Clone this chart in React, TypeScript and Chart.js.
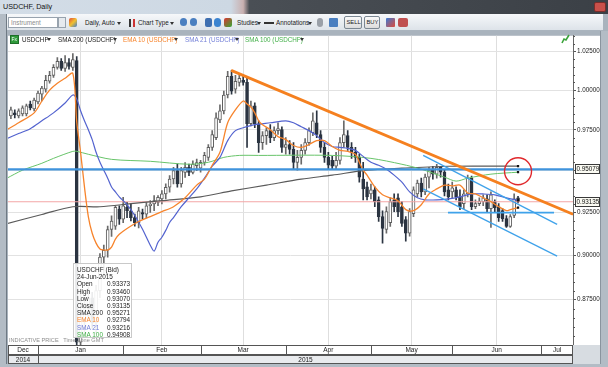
import React, { useEffect, useRef } from "react";
import { Chart, registerables } from "chart.js";

Chart.register(...registerables);

// ---------------- data ----------------
// trading-day index: 0 = 1-Jan-2015; first candle is 23-Dec-2014
const firstCandleDay = -7;
const opens = [
  0.9838, 0.9857, 0.9838, 0.9851, 0.9851, 0.9913, 0.9882,
  0.9926, 0.9976, 1.0007, 1.0058, 1.0096, 1.0147, 1.0186, 1.0141, 1.0179, 1.0147, 1.0192,
  0.8515, 0.8640, 0.8700, 0.8760, 0.8620, 0.8800, 0.8990, 0.9030, 0.9150, 0.9170, 0.9270,
  0.9210, 0.9280, 0.9260, 0.9220, 0.9190, 0.9250, 0.9240, 0.9290, 0.9300, 0.9310,
  0.9330, 0.9360, 0.9400, 0.9450, 0.9500, 0.9420, 0.9490, 0.9520, 0.9490, 0.9530,
  0.9515, 0.9551, 0.9581, 0.9642, 0.9703, 0.9813, 0.9870, 0.9970, 1.0090, 1.0007,
  1.0051, 1.0064, 1.0051, 0.9789, 0.9901, 0.9789, 0.9672, 0.9715, 0.9746, 0.9703, 0.9746, 0.9752,
  0.9642, 0.9660, 0.9630, 0.9551, 0.9581, 0.9624, 0.9672, 0.9734, 0.9795, 0.9722, 0.9642,
  0.9581, 0.9563, 0.9527, 0.9563, 0.9672, 0.9715, 0.9642, 0.9612, 0.9581, 0.9449, 0.9402,
  0.9360, 0.9384, 0.9325, 0.9226, 0.9151, 0.9190, 0.9325, 0.9337, 0.9284, 0.9208, 0.9128,
  0.9243, 0.9360, 0.9425, 0.9372, 0.9461, 0.9509, 0.9479, 0.9521, 0.9491, 0.9384,
  0.9372, 0.9384, 0.9343, 0.9302, 0.9360, 0.9455, 0.9284, 0.9302, 0.9314, 0.9331, 0.9273,
  0.9314, 0.9284, 0.9261, 0.9214, 0.9168, 0.9232, 0.93373,
];
const highs = [
  0.9894, 0.9876, 0.9882, 0.9901, 0.9913, 0.9932, 0.9951,
  0.9995, 1.0026, 1.0096, 1.0122, 1.0166, 1.0211, 1.0205, 1.0224, 1.0205, 1.0237, 1.0218,
  0.8800, 0.8760, 0.8820, 0.8790, 0.8830, 0.9010, 0.9060, 0.9170, 0.9230, 0.9290, 0.9290,
  0.9340, 0.9310, 0.9300, 0.9240, 0.9280, 0.9270, 0.9310, 0.9320, 0.9350, 0.9350,
  0.9380, 0.9420, 0.9470, 0.9520, 0.9540, 0.9520, 0.9550, 0.9540, 0.9560, 0.9570,
  0.9563, 0.9612, 0.9660, 0.9746, 0.9857, 0.9907, 0.9995, 1.0122, 1.0128, 1.0096,
  1.0109, 1.0096, 1.0077, 0.9932, 0.9920, 0.9807, 0.9740, 0.9764, 0.9783, 0.9770, 0.9795, 0.9770,
  0.9703, 0.9684, 0.9672, 0.9624, 0.9660, 0.9697, 0.9764, 0.9857, 0.9870, 0.9746, 0.9672,
  0.9612, 0.9587, 0.9612, 0.9703, 0.9807, 0.9746, 0.9672, 0.9642, 0.9600, 0.9551, 0.9431,
  0.9419, 0.9402, 0.9343, 0.9260, 0.9284, 0.9337, 0.9360, 0.9360, 0.9314, 0.9226, 0.9273,
  0.9402, 0.9443, 0.9455, 0.9479, 0.9521, 0.9527, 0.9539, 0.9527, 0.9503, 0.9419,
  0.9431, 0.9402, 0.9384, 0.9384, 0.9473, 0.9467, 0.9325, 0.9337, 0.9355, 0.9355, 0.9372,
  0.9325, 0.9302, 0.9273, 0.9232, 0.9237, 0.9360, 0.93460,
];
const lows = [
  0.9820, 0.9826, 0.9826, 0.9838, 0.9838, 0.9876, 0.9870,
  0.9913, 0.9932, 0.9988, 1.0045, 1.0083, 1.0135, 1.0128, 1.0122, 1.0135, 1.0128, 0.7400,
  0.8350, 0.8560, 0.8640, 0.8590, 0.8560, 0.8760, 0.8880, 0.8990, 0.9110, 0.9150, 0.9180,
  0.9190, 0.9220, 0.9200, 0.9170, 0.9160, 0.9210, 0.9220, 0.9250, 0.9260, 0.9290,
  0.9300, 0.9330, 0.9370, 0.9420, 0.9400, 0.9400, 0.9460, 0.9470, 0.9480, 0.9500,
  0.9491, 0.9533, 0.9563, 0.9624, 0.9690, 0.9795, 0.9851, 0.9951, 0.9976, 0.9982,
  1.0026, 1.0032, 0.9642, 0.9776, 0.9764, 0.9612, 0.9630, 0.9660, 0.9672, 0.9684, 0.9722, 0.9612,
  0.9600, 0.9600, 0.9509, 0.9503, 0.9539, 0.9600, 0.9654, 0.9715, 0.9703, 0.9612, 0.9551,
  0.9509, 0.9509, 0.9509, 0.9539, 0.9642, 0.9624, 0.9575, 0.9551, 0.9431, 0.9325, 0.9325,
  0.9331, 0.9284, 0.9197, 0.9071, 0.9128, 0.9168, 0.9255, 0.9226, 0.9168, 0.9082, 0.9111,
  0.9226, 0.9343, 0.9343, 0.9355, 0.9396, 0.9449, 0.9455, 0.9461, 0.9349, 0.9325,
  0.9337, 0.9325, 0.9267, 0.9273, 0.9343, 0.9267, 0.9273, 0.9290, 0.9290, 0.9255, 0.9162,
  0.9255, 0.9197, 0.9197, 0.9162, 0.9162, 0.9220, 0.93070,
];
const closes = [
  0.9876, 0.9845, 0.9870, 0.9888, 0.9901, 0.9888, 0.9938,
  0.9982, 1.0014, 1.0064, 1.0096, 1.0147, 1.0186, 1.0141, 1.0179, 1.0154, 1.0198, 0.8515,
  0.8640, 0.8700, 0.8760, 0.8620, 0.8800, 0.8990, 0.9030, 0.9150, 0.9200, 0.9280, 0.9210,
  0.9290, 0.9260, 0.9220, 0.9190, 0.9260, 0.9240, 0.9290, 0.9300, 0.9320, 0.9340,
  0.9360, 0.9400, 0.9450, 0.9500, 0.9420, 0.9500, 0.9520, 0.9490, 0.9540, 0.9550,
  0.9551, 0.9593, 0.9642, 0.9722, 0.9826, 0.9870, 0.9970, 1.0090, 0.9995, 1.0058,
  1.0077, 1.0051, 0.9789, 0.9901, 0.9789, 0.9672, 0.9715, 0.9746, 0.9703, 0.9746, 0.9758, 0.9642,
  0.9660, 0.9630, 0.9551, 0.9581, 0.9624, 0.9672, 0.9746, 0.9807, 0.9722, 0.9642, 0.9581,
  0.9533, 0.9527, 0.9563, 0.9672, 0.9722, 0.9642, 0.9612, 0.9581, 0.9461, 0.9390, 0.9343,
  0.9384, 0.9314, 0.9226, 0.9156, 0.9255, 0.9314, 0.9284, 0.9255, 0.9185, 0.9128, 0.9255,
  0.9384, 0.9425, 0.9372, 0.9461, 0.9503, 0.9479, 0.9521, 0.9491, 0.9372, 0.9343,
  0.9396, 0.9343, 0.9284, 0.9360, 0.9455, 0.9284, 0.9302, 0.9318, 0.9337, 0.9273, 0.9355,
  0.9278, 0.9220, 0.9214, 0.9168, 0.9226, 0.9331, 0.93135,
];

const ema10Days = [-8, -5, -1, 1, 3, 5, 7, 9, 10, 11, 12, 13, 14, 15, 16, 17, 18, 19, 20, 21, 23, 26, 29, 32, 35, 38, 41, 43, 45, 47, 49, 51, 53, 54, 55, 56, 57, 58, 60, 62, 64, 66, 68, 70, 72, 74, 76, 78, 80, 82, 83, 84, 85, 87, 89, 91, 93, 95, 97, 99, 101, 103, 105, 107, 109, 111, 113, 115, 117, 119, 121, 122, 124];
const ema10Values = [0.9752, 0.9795, 0.9857, 0.9932, 1.0001, 1.0045, 1.0077, 1.0109, 0.9801, 0.9612, 0.9402, 0.9226, 0.9128, 0.9071, 0.9037, 0.9031, 0.9031, 0.9048, 0.9094, 0.9122, 0.9156, 0.9197, 0.9226, 0.9255, 0.9284, 0.9337, 0.9413, 0.9449, 0.9533, 0.9612, 0.9795, 0.9876, 0.9932, 0.9913, 0.9894, 0.9857, 0.9807, 0.9783, 0.9752, 0.9709, 0.9690, 0.9654, 0.9642, 0.9660, 0.9684, 0.9684, 0.9648, 0.9624, 0.9618, 0.9600, 0.9551, 0.9503, 0.9473, 0.9402, 0.9355, 0.9337, 0.9320, 0.9267, 0.9261, 0.9296, 0.9360, 0.9390, 0.9413, 0.9408, 0.9413, 0.9366, 0.9360, 0.9337, 0.9314, 0.9284, 0.9261, 0.9267, 0.92794];

const sma21Days = [-8, -5, -2, 1, 4, 7, 9, 10, 11, 12, 13, 14, 15, 16, 17, 18, 19, 20, 21, 23, 25, 27, 29, 30, 31, 32, 33, 34, 35, 37, 39, 41, 43, 45, 47, 49, 51, 53, 56, 60, 64, 66, 68, 70, 72, 74, 76, 78, 80, 82, 84, 86, 88, 90, 92, 94, 96, 98, 100, 103, 106, 109, 112, 115, 118, 121, 124];
const sma21Values = [0.9697, 0.9728, 0.9758, 0.9807, 0.9857, 0.9919, 0.9970, 0.9945, 0.9870, 0.9807, 0.9752, 0.9690, 0.9612, 0.9551, 0.9503, 0.9455, 0.9402, 0.9372, 0.9343, 0.9296, 0.9232, 0.9151, 0.9059, 0.9025, 0.9076, 0.9105, 0.9145, 0.9191, 0.9220, 0.9284, 0.9337, 0.9390, 0.9455, 0.9527, 0.9581, 0.9684, 0.9746, 0.9764, 0.9783, 0.9795, 0.9807, 0.9795, 0.9770, 0.9746, 0.9715, 0.9672, 0.9648, 0.9642, 0.9636, 0.9624, 0.9587, 0.9551, 0.9533, 0.9509, 0.9473, 0.9431, 0.9372, 0.9337, 0.9325, 0.9325, 0.9331, 0.9343, 0.9360, 0.9360, 0.9355, 0.9337, 0.93216];

const sma100Days = [-8, -4, 1, 4, 9, 10, 13, 19, 29, 39, 44, 48, 52, 57, 76, 86, 94, 99, 105, 108, 111, 117, 124];
const sma100Values = [0.9455, 0.9503, 0.9545, 0.9575, 0.9618, 0.9618, 0.9600, 0.9569, 0.9557, 0.9539, 0.9551, 0.9581, 0.9593, 0.9593, 0.9593, 0.9575, 0.9539, 0.9509, 0.9461, 0.9437, 0.9455, 0.9479, 0.94908];

const sma200Days = [-8, 1, 9, 16, 24, 32, 42, 50, 59, 68, 76, 85, 94, 106, 124];
const sma200Values = [0.9185, 0.9238, 0.9284, 0.9284, 0.9302, 0.9320, 0.9343, 0.9378, 0.9413, 0.9449, 0.9473, 0.9503, 0.9515, 0.9527, 0.95271];

const monthNames = ["Dec", "Jan", "Feb", "Mar", "Apr", "May", "Jun", "Jul"];
const monthStartDays = [0, 22, 42, 64, 86, 107, 130]; // Jan .. Jul
const yearNames = ["2014", "2015"];
const yearStartDays = [0];
const priceTicks = [0.875, 0.9, 0.925, 0.95, 0.975, 1.0, 1.025];
const priceMin = 0.85;
const priceMax = 1.0354;
const dayMin = -7.75;
const dayMax = 138.2;

const resistanceDays = [49.9, 138.2];
const resistanceValues = [1.0128, 0.924];
const levelPrice = 0.95079;
const lastPrice = 0.93135;
const channelUpperDays = [99.5, 134.1];
const channelUpperValues = [0.9593, 0.918];
const channelLowerDays = [99.5, 134.1];
const channelLowerValues = [0.939, 0.8996];
const supportDays = [105.9, 133.3];
const supportValues = [0.9249, 0.9249];
const circleDay = 124;
const circlePrice = 0.9497;
const highlightedPrices = [levelPrice, lastPrice];

// ---------------- helpers ----------------
const FONT = '"Liberation Sans", Arial, sans-serif';
const pts = (xs: number[], ys: number[]) => xs.map((x, i) => ({ x, y: ys[i] }));
const DOWN = "#2b3441";
const candleX = opens.map((_, k) => firstCandleDay + k);
const isUp = (k: number) => closes[k] >= opens[k];

const lineDs = (label: string, data: any[], color: string, width: number, order: number, marker = false, tension = 0.3) => ({
  type: "line",
  label,
  data,
  borderColor: color,
  backgroundColor: "#000",
  borderWidth: width,
  pointRadius: marker ? (c: any) => (c.dataIndex === data.length - 1 ? 1.6 : 0) : 0,
  pointStyle: "rect",
  pointBorderWidth: 0,
  pointBackgroundColor: "#111",
  tension,
  fill: false,
  order,
});

const bgPlugin = {
  id: "bg",
  beforeDraw(chart: any) {
    const { ctx, chartArea } = chart;
    ctx.save();
    ctx.fillStyle = "#ffffff";
    ctx.fillRect(chartArea.left, chartArea.top, chart.width - chartArea.left - 8, chartArea.bottom - chartArea.top);
    ctx.restore();
  },
};

const decoPlugin = {
  id: "deco",
  afterDatasetsDraw(chart: any) {
    const { ctx, scales } = chart;
    const cx = scales.x.getPixelForValue(circleDay);
    const cy = scales.y.getPixelForValue(circlePrice);
    ctx.save();
    ctx.strokeStyle = "#e0282c";
    ctx.lineWidth = 1.4;
    ctx.beginPath();
    ctx.arc(cx, cy, 13.5, 0, Math.PI * 2);
    ctx.stroke();
    ctx.restore();
  },
  afterDraw(chart: any) {
    const { ctx, chartArea, scales } = chart;
    const y = scales.y;
    const x = scales.x;
    ctx.save();
    // minor ticks
    ctx.strokeStyle = "#555";
    ctx.lineWidth = 1;
    const ext = [priceTicks[0] - 0.025, ...priceTicks, priceTicks[priceTicks.length - 1] + 0.025];
    for (let t = 0; t < ext.length - 1; t++) {
      const a = ext[t];
      const b = ext[t + 1];
      for (let m = 1; m < 5; m++) {
        const v = a + ((b - a) * m) / 5;
        const py = Math.round(y.getPixelForValue(v)) + 0.5;
        if (py < chartArea.top || py > chartArea.bottom) continue;
        ctx.beginPath();
        ctx.moveTo(chartArea.right, py);
        ctx.lineTo(chartArea.right + 2, py);
        ctx.stroke();
      }
    }
    // highlighted labels
    ctx.font = `6.3px ${FONT}`;
    ctx.textBaseline = "middle";
    highlightedPrices.forEach((p) => {
      const py = Math.round(y.getPixelForValue(p));
      ctx.fillStyle = "#fbfbf3";
      ctx.fillRect(chartArea.right + 2, py - 5, 25, 10);
      ctx.strokeStyle = "#3a3a3a";
      ctx.strokeRect(chartArea.right + 2.5, py - 4.5, 24, 9);
      ctx.fillStyle = "#111";
      ctx.fillText(p.toFixed(5), chartArea.right + 3.5, py + 0.5);
    });
    // bottom rows: months and years
    const top = chartArea.bottom;
    const L = chartArea.left;
    const R = chartArea.right;
    ctx.fillStyle = "#ffffff";
    ctx.fillRect(L, top, R - L, 10);
    ctx.fillStyle = "#e9ebee";
    ctx.fillRect(L, top + 10, R - L, 9);
    ctx.strokeStyle = "#555";
    ctx.lineWidth = 1;
    ctx.strokeRect(L + 0.5, top + 0.5, R - L - 1, 9);
    ctx.strokeRect(L + 0.5, top + 10.5, R - L - 1, 8);
    ctx.font = `6.5px ${FONT}`;
    const mb = [L, ...monthStartDays.map((d) => x.getPixelForValue(d)), R];
    ctx.fillStyle = "#222";
    ctx.textAlign = "center";
    for (let i = 0; i < monthNames.length; i++) {
      const a = mb[i];
      const b = Math.min(mb[i + 1], R);
      if (i > 0) {
        ctx.beginPath();
        ctx.moveTo(Math.round(a) + 0.5, top);
        ctx.lineTo(Math.round(a) + 0.5, top + 10);
        ctx.stroke();
      }
      ctx.fillText(monthNames[i], (a + b) / 2, top + 5.5);
    }
    const yb = [L, ...yearStartDays.map((d) => x.getPixelForValue(d)), R];
    for (let i = 0; i < yearNames.length; i++) {
      const a = yb[i];
      const b = yb[i + 1];
      if (i > 0) {
        ctx.beginPath();
        ctx.moveTo(Math.round(a) + 0.5, top + 10);
        ctx.lineTo(Math.round(a) + 0.5, top + 19);
        ctx.stroke();
      }
      ctx.fillText(yearNames[i], (a + b) / 2, top + 15);
    }
    ctx.restore();
  },
};

function ChartCanvas() {
  const ref = useRef<HTMLCanvasElement>(null);
  useEffect(() => {
    const wickData = candleX.map((d, k) => ({ x: d, y: [lows[k], highs[k]] }));
    const bodyData = candleX.map((d, k) => ({ x: d, y: [opens[k], closes[k]] }));
    const edge = (v: number) => [{ x: dayMin - 1, y: v }, { x: dayMax + 1, y: v }];
    const chart = new Chart(ref.current as HTMLCanvasElement, {
      type: "bar",
      data: {
        datasets: [
          lineDs("resistance", pts(resistanceDays, resistanceValues), "#f5801f", 2.8, 0, false, 0),
          lineDs("level", edge(levelPrice), "#3f93dc", 2.4, 1, false, 0),
          lineDs("channelUpper", pts(channelUpperDays, channelUpperValues), "#3fa2ea", 1.3, 1, false, 0),
          lineDs("channelLower", pts(channelLowerDays, channelLowerValues), "#3fa2ea", 1.3, 1, false, 0),
          lineDs("support", pts(supportDays, supportValues), "#3fa2ea", 1.6, 1, false, 0),
          lineDs("EMA 10", pts(ema10Days, ema10Values), "#f7842c", 1.3, 2, true),
          lineDs("SMA 21", pts(sma21Days, sma21Values), "#5363cf", 1.2, 2, true),
          lineDs("SMA 100", pts(sma100Days, sma100Values), "#68c46a", 1, 2, true),
          lineDs("SMA 200", pts(sma200Days, sma200Values), "#5a5a5a", 1.2, 2, true),
          lineDs("last", edge(lastPrice), "#f3a6a6", 1, 3, false, 0),
          {
            type: "bar",
            label: "bodies",
            data: bodyData,
            barThickness: 3,
            grouped: false,
            borderSkipped: false,
            borderWidth: 1,
            backgroundColor: candleX.map((_, k) => (isUp(k) ? "#ffffff" : DOWN)),
            borderColor: candleX.map((_, k) => (isUp(k) ? "#5e5e5e" : DOWN)),
            order: 5,
          },
          {
            type: "bar",
            label: "wicks",
            data: wickData,
            barThickness: 1,
            grouped: false,
            borderSkipped: false,
            borderWidth: 0,
            backgroundColor: candleX.map((_, k) => (isUp(k) ? "#6a6a6a" : DOWN)),
            order: 6,
          },
        ] as any,
      },
      options: {
        animation: false,
        responsive: false,
        maintainAspectRatio: false,
        devicePixelRatio: 1,
        layout: { padding: { left: 8, right: 0, top: 1, bottom: 19 } },
        plugins: { legend: { display: false }, tooltip: { enabled: false } },
        events: [],
        scales: {
          x: {
            type: "linear",
            min: dayMin,
            max: dayMax,
            offset: false,
            afterBuildTicks: (s: any) => {
              s.ticks = monthStartDays.map((v) => ({ value: v }));
            },
            afterFit: (s: any) => {
              s.height = 0;
            },
            ticks: { display: false },
            grid: { color: "#dedede", drawTicks: false },
            border: { display: false },
          },
          y: {
            type: "logarithmic",
            position: "right",
            min: priceMin,
            max: priceMax,
            afterBuildTicks: (s: any) => {
              s.ticks = priceTicks.map((v) => ({ value: v }));
            },
            afterFit: (s: any) => {
              s.width = 35;
            },
            ticks: {
              callback: (v: any) => Number(v).toFixed(5),
              font: { size: 6.3, family: FONT },
              color: "#222",
              padding: 1,
              autoSkip: false,
            },
            grid: { color: "#e2e2e2", tickColor: "#555", tickLength: 3, drawTicks: true },
            border: { display: true, color: "#666" },
          },
        },
      } as any,
      plugins: [bgPlugin, decoPlugin],
    });
    return () => chart.destroy();
  }, []);
  return <canvas ref={ref} width={608} height={333} style={{ position: "absolute", left: 0, top: 31, width: 608, height: 333 }} />;
}

function Txt({ x, y, children, color = "#1b1b1b", size = 6.3, bold = false }: any) {
  return (
    <div style={{ position: "absolute", left: x, top: y, fontSize: size, lineHeight: `${size + 2}px`, color, whiteSpace: "nowrap", fontWeight: bold ? "bold" : "normal" }}>
      {children}
    </div>
  );
}

function Box({ x, y, w, h, bg, border, radius = 0, children }: any) {
  return (
    <div style={{ position: "absolute", left: x, top: y, width: w, height: h, background: bg, border, borderRadius: radius, boxSizing: "border-box" }}>{children}</div>
  );
}

function Arrow({ x, y, color = "#333" }: any) {
  return (
    <svg style={{ position: "absolute", left: x, top: y }} width={5} height={4}>
      <polygon points="0,0 4,0 2,3" fill={color} />
    </svg>
  );
}

export default function App() {
  useEffect(() => {
    document.body.style.margin = "0";
  }, []);
  const n = closes.length - 1;
  const tipRows: [string, string, string][] = [
    ["Open", opens[n].toFixed(5), "#1b1b1b"],
    ["High", highs[n].toFixed(5), "#1b1b1b"],
    ["Low", lows[n].toFixed(5), "#1b1b1b"],
    ["Close", closes[n].toFixed(5), "#1b1b1b"],
    ["SMA 200", sma200Values[sma200Values.length - 1].toFixed(5), "#1b1b1b"],
    ["EMA 10", ema10Values[ema10Values.length - 1].toFixed(5), "#f7842c"],
    ["SMA 21", sma21Values[sma21Values.length - 1].toFixed(5), "#6f7bd6"],
    ["SMA 100", sma100Values[sma100Values.length - 1].toFixed(5), "#3fae45"],
  ];
  return (
    <div style={{ position: "relative", width: 608, height: 367, overflow: "hidden", background: "#a9b3bd", fontFamily: FONT }}>
      {/* title bar */}
      <div style={{ position: "absolute", left: 0, top: 0, width: 608, height: 14, background: "linear-gradient(to right, #d3dde7 0%, #cdd8e3 38%, #c9b0b0 40%, #4a4f55 41%, #3b4046 100%)" }} />
      <Txt x={3} y={2} size={7.2} color="#111">USDCHF, Daily</Txt>
      <Box x={594} y={2} w={12} h={10} bg="#c9504a" border="1px solid #7a2d2a" radius={2} />
      {/* toolbar */}
      <div style={{ position: "absolute", left: 5, top: 14, width: 598, height: 17, background: "linear-gradient(#f6f8fa, #dde3e9)", borderBottom: "1px solid #aab4be", boxSizing: "border-box" }} />
      <Box x={8} y={17} w={50} h={11} bg="#fff" border="1px solid #98a3ae" />
      <Txt x={11} y={18.5} color="#8c8c8c">Instrument</Txt>
      <Box x={58} y={17} w={8} h={11} bg="#e6eaee" border="1px solid #98a3ae" />
      <Box x={69} y={18} w={8} h={9} bg="linear-gradient(135deg,#e04a3a,#f2c12e,#3a7bd5)" radius={2} />
      <Txt x={85} y={18.5}>Daily,  Auto</Txt>
      <Arrow x={117} y={22} />
      <Box x={129} y={19} w={6} h={8} bg="linear-gradient(90deg,#333 30%,transparent 30%,transparent 60%,#c33 60%)" />
      <Txt x={138} y={18.5}>Chart Type</Txt>
      <Arrow x={170} y={22} />
      <Box x={180} y={18} w={7} h={8} bg="#4a7fc0" radius={4} />
      <Box x={190} y={18} w={7} h={8} bg="#4a7fc0" radius={4} />
      <Box x={205} y={18} w={7} h={9} bg="#3f6fb0" radius={2} />
      <Box x={214} y={18} w={7} h={9} bg="#3c84d0" radius={4} />
      <Box x={224} y={18} w={8} h={9} bg="linear-gradient(135deg,#d33,#3a3)" radius={2} />
      <Txt x={237} y={18.5}>Studies</Txt>
      <Arrow x={257} y={22} />
      <Box x={264} y={22} w={10} h={2} bg="#333" />
      <Txt x={276} y={18.5}>Annotations</Txt>
      <Arrow x={308} y={22} />
      <Box x={317} y={18} w={6} h={9} bg="#9aa0a8" radius={3} />
      <Box x={329} y={18} w={9} h={9} bg="#4a7fc0" radius={1} />
      <Box x={344} y={16} w={18} h={13} bg="linear-gradient(#fafafa,#dcdcdc)" border="1px solid #7b8792" radius={2} />
      <Txt x={346.5} y={18.5} size={5.8}>SELL</Txt>
      <Box x={364} y={16} w={16} h={13} bg="linear-gradient(#fafafa,#dcdcdc)" border="1px solid #7b8792" radius={2} />
      <Txt x={366.5} y={18.5} size={5.8}>BUY</Txt>
      <Box x={386} y={18} w={9} h={9} bg="linear-gradient(135deg,#3a7bd5,#e04a3a)" radius={1} />
      <Box x={398} y={18} w={10} h={9} bg="#c05050" radius={2} />

      <ChartCanvas />

      {/* frame strips */}
      <div style={{ position: "absolute", left: 0, top: 14, width: 7, height: 353, background: "#b3bcc5", borderRight: "1px solid #6f7a84", boxSizing: "border-box" }} />
      <div style={{ position: "absolute", left: 600, top: 31, width: 8, height: 336, background: "#b3bcc5", borderLeft: "1px solid #8a949e", boxSizing: "border-box" }} />
      <div style={{ position: "absolute", left: 0, top: 364, width: 608, height: 3, background: "#b3bcc5" }} />
      <div style={{ position: "absolute", left: 573, top: 345, width: 27, height: 19, background: "#d7dce1" }} />

      {/* legend row */}
      <Box x={10} y={35} w={9} h={9} bg="#2f9a3a" border="1px solid #1f6e28" />
      <Txt x={11.5} y={35.5} size={5} color="#fff">Fx</Txt>
      <Txt x={22} y={35.5}>USDCHF</Txt>
      <Arrow x={47} y={38} />
      <Txt x={58} y={35.5}>SMA 200 (USDCHF)</Txt>
      <Arrow x={113} y={38} />
      <Txt x={123} y={35.5} color="#f7842c">EMA 10 (USDCHF)</Txt>
      <Arrow x={174} y={38} />
      <Txt x={185} y={35.5} color="#7480d8">SMA 21 (USDCHF)</Txt>
      <Arrow x={235} y={38} />
      <Txt x={245} y={35.5} color="#45b04b">SMA 100 (USDCHF)</Txt>
      <Arrow x={300} y={38} />
      <svg style={{ position: "absolute", left: 561, top: 34 }} width={9} height={10}>
        <polyline points="1,9 3,5 5,6 8,1" fill="none" stroke="#3aa33a" strokeWidth={1.6} />
      </svg>

      {/* data window */}
      <div style={{ position: "absolute", left: 73, top: 263, width: 59, height: 75, background: "rgba(255,255,255,0.9)", border: "1px solid #c9c9c9", boxSizing: "border-box", fontSize: 6.4, lineHeight: "7.2px", color: "#1b1b1b", padding: "2px 0 0 3px" }}>
        <div>USDCHF (Bid)</div>
        <div>24-Jun-2015</div>
        {tipRows.map(([k, v, c]) => (
          <div key={k} style={{ display: "flex" }}>
            <span style={{ width: 30, color: c }}>{k}</span>
            <span>{v}</span>
          </div>
        ))}
      </div>
      <Txt x={9} y={337} size={5.6} color="#8d8d8d">INDICATIVE PRICE&nbsp;&nbsp;&nbsp;Time Zone GMT</Txt>
    </div>
  );
}
